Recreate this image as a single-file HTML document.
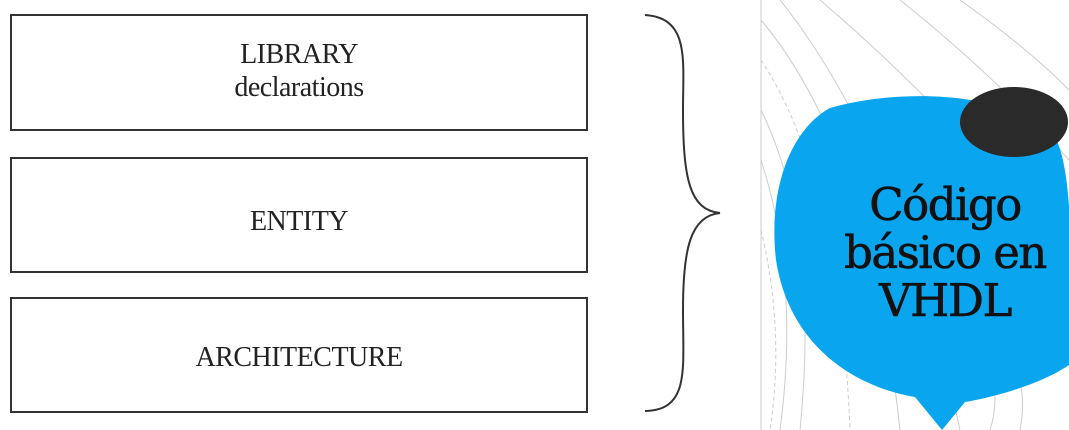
<!DOCTYPE html>
<html><head><meta charset="utf-8"><style>
html,body{margin:0;padding:0;background:#fff;width:1069px;height:430px;overflow:hidden}
.box{position:absolute;left:10px;width:574px;border:2px solid #333;background:#fff;font-family:"Liberation Serif",serif;color:#222;text-align:center;font-size:28px;letter-spacing:-0.5px}
.t{position:absolute;left:825px;width:240px;text-align:center;font-family:"DejaVu Serif",serif;font-size:45px;color:#111;letter-spacing:-1.5px;-webkit-text-stroke:0.6px #111}
</style></head><body>
<svg width="1069" height="430" style="position:absolute;left:0;top:0">
<g fill="none" stroke="#ccc" stroke-width="1">
<line x1="761" y1="0" x2="761" y2="430"/>
<path d="M780 0 Q900 150 960 430"/>
<path d="M761 20 Q870 150 900 430"/>
<path d="M761 60 Q840 180 850 430" stroke-dasharray="4 3"/>
<path d="M761 110 Q820 230 800 430"/>
<path d="M761 160 Q800 280 780 430"/>
<path d="M761 230 Q785 330 770 430" stroke-dasharray="4 3"/>
<path d="M900 0 Q1000 80 1069 160"/>
<path d="M960 0 Q1030 50 1069 90"/>
<path d="M820 0 Q960 120 1069 260"/>
<path d="M1000 330 Q1030 380 1020 430"/>
<path d="M990 360 Q1000 400 990 430"/>
</g>
<path d="M645 15 C690 18 683 60 683 110 C683 180 690 210 720 213 C690 216 683 250 683 310 C683 370 690 410 645 411" fill="none" stroke="#333" stroke-width="2"/>
<path d="M830 108 C900 88 1000 92 1050 130 C1080 160 1069 330 1069 365 C1040 385 990 398 965 402 L942 430 L915 397 C860 388 790 350 776 260 C768 190 790 130 830 108 Z" fill="#0aa5ef"/>
<ellipse cx="1014" cy="122" rx="54" ry="35" fill="#2a2a2a"/>
</svg>
<div class="box" style="top:14px;height:113px"><div style="padding-top:22px;line-height:33px">LIBRARY<br>declarations</div></div>
<div class="box" style="top:157px;height:112px"><div style="padding-top:48px;line-height:30px">ENTITY</div></div>
<div class="box" style="top:297px;height:112px"><div style="padding-top:44px;line-height:30px">ARCHITECTURE</div></div>
<div class="t" style="top:181px;line-height:48px">Código<br>básico en<br>VHDL</div>
</body></html>
